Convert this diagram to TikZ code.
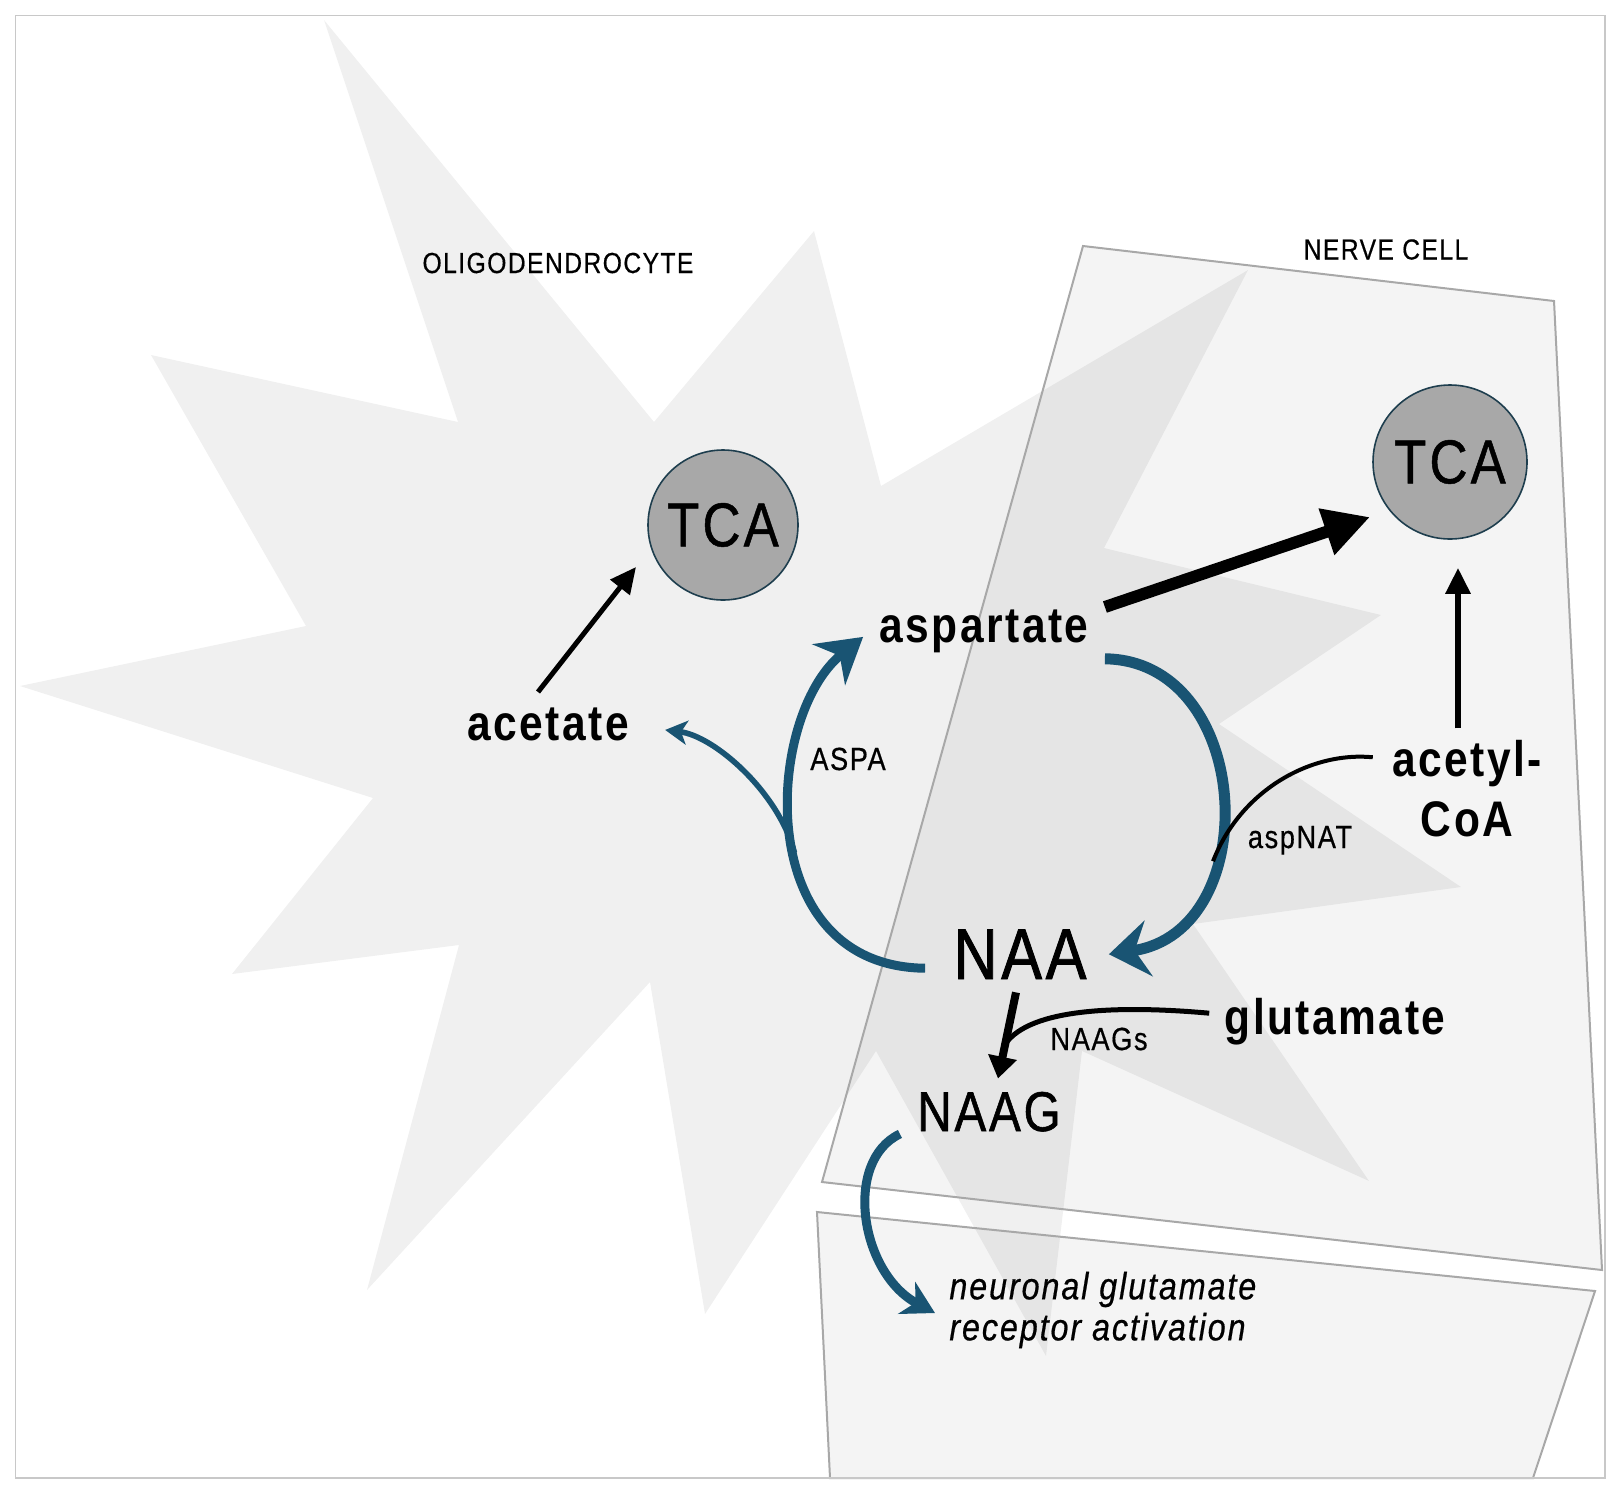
\documentclass[tikz,border=0pt]{standalone}
\usepackage{fontspec}
\setmainfont{Liberation Sans}[FakeStretch=0.85,LetterSpace=5]
\usetikzlibrary{arrows.meta,calc}

\definecolor{starGray}{RGB}{240,240,240}
\definecolor{boxLine}{RGB}{168,168,168}
\definecolor{frameLine}{RGB}{200,200,200}
\definecolor{tcaFill}{RGB}{168,168,168}
\definecolor{tcaLine}{RGB}{30,62,78}
\definecolor{naaBlue}{RGB}{25,84,115}

\newcommand{\fsCell}{\fontsize{14.5}{17}\selectfont\addfontfeature{FakeBold=0.5}}
\newcommand{\fsEnz}{\fontsize{16}{19}\selectfont\addfontfeature{FakeBold=0.5}}
\newcommand{\fsMet}{\fontsize{25}{30}\selectfont\bfseries}

\tikzset{
  lbl/.style={inner sep=1pt, anchor=base},
  tca/.style={circle, draw=tcaLine, line width=0.8pt, fill=tcaFill, inner sep=0pt, font=\fontsize{31}{36}\selectfont\addfontfeature{FakeBold=0.8}},
  cell/.style={draw=boxLine, line width=1pt, fill=black, fill opacity=0.045},
  blk/.style={draw=black},
  blu/.style={draw=naaBlue},
}

\begin{document}
\begin{tikzpicture}[x=0.5pt,y=0.5pt,yscale=-1,xscale=1]
\useasboundingbox (0,0) rectangle (1621,1494);

%Shape: Star
\draw [draw=none, fill=starGray] (324,20) -- (654,422) -- (814,231) -- (881,486) -- (1248,270) -- (1104,548) -- (1381,615) -- (1219,724) -- (1461,887) -- (1193,924) -- (1369,1181) -- (1082,1051) -- (1046,1356) -- (876,1051) -- (705,1314) -- (650,982) -- (367,1290) -- (459,945) -- (232,974) -- (373,798) -- (20,686) -- (306,626) -- (151,355) -- (458,422) -- cycle ;
%Shape: Polygon
\draw [cell] (1083,246) -- (1554,301) -- (1602,1270) -- (822,1182) -- cycle ;
%Shape: Polygon
\draw [cell] (817,1212) -- (1595,1291) -- (1533,1478) -- (830,1478) -- cycle ;
%Shape: Rectangle
\draw [frameLine, line width=0.6pt] (15.5,15.5) rectangle (1605,1478) ;

% Text Node
\draw (558,273) node [lbl] [font=\fsCell] (olig) {OLIGODENDROCYTE};
% Text Node
\draw (1386,259.5) node [lbl] [font=\fsCell] (nerve) {NERVE CELL};
% Circle
\draw (723,525) node [tca, minimum size=75pt] (tcaL) {TCA};
% Circle
\draw (1450,462) node [tca, minimum size=77pt] (tcaR) {TCA};
% Text Node
\draw (984,642) node [lbl] [font=\fsMet] (asp) {aspartate};
% Text Node
\draw (548,740) node [lbl] [font=\fsMet] (acet) {acetate};
% Text Node
\draw (848,770) node [lbl] [font=\fsEnz] (aspa) {ASPA};
% Text Node
\draw (1467,789) node [inner sep=1pt] [font=\fsMet] [align=center] (acoa) {acetyl-\\CoA};
% Text Node
\draw (1300,848) node [lbl] [font=\fsEnz] (tAspnat) {aspNAT};
% Text Node
\draw (1020,979) node [lbl] [font=\fontsize{36}{42}\selectfont\addfontfeature{FakeBold=1.2}] (naa) {NAA};
% Text Node
\draw (1335,1034) node [lbl] [font=\fsMet] (glu) {glutamate};
% Text Node
\draw (1099,1050) node [lbl] [font=\fsEnz] (tNaags) {NAAGs};
% Text Node
\draw (989,1131) node [lbl] [font=\fontsize{28}{33}\selectfont\addfontfeature{FakeBold=1}] (naag) {NAAG};
% Text Node
\draw (947,1310) node [anchor=west, inner sep=1pt] [font=\fontsize{19}{20.5}\selectfont\itshape\addfontfeature{FakeBold=0.5}] [align=left] (neur) {neuronal glutamate\\receptor activation};

%Curve Lines
\draw [blu, line width=5.5pt, -{Stealth[length=20pt,width=28pt,inset=7pt]}] ($(asp.south east)+(14,4)$) .. controls +(149,2) and +(157,-23) .. ($(naa.east)+(20,0)$) coordinate[pos=0.65] (natJoin) ;
%Curve Lines
\draw [blu, line width=4.5pt, -{Stealth[length=22pt,width=26pt,inset=7pt]}] ($(naa.west)+(-26,14)$) .. controls +(-175,-2) and +(-98,79) .. ($(asp.west)+(-14,6)$) coordinate[pos=0.45] (aspaSplit) ;
%Curve Lines
\draw [blu, line width=2.8pt, -{Stealth[length=11pt,width=12pt,inset=3pt]}] (aspaSplit) .. controls +(-16,-61) and +(49,6) .. ($(acet.east)+(34,6)$) ;
%Curve Lines
\draw [blu, line width=4.5pt, -{Stealth[length=16pt,width=18pt,inset=5pt]}] ($(naag.south west)+(-15,0)$) .. controls +(-57,27) and +(-75,-40) .. ($(neur.west)+(-12,3)$) ;

%Straight Lines
\draw [blk, line width=2.5pt, -{Triangle[length=13pt,width=12pt]}] ($(acet.north)+(-10,-13)$) -- ($(tcaL.center)+(-87,42)$) ;
%Straight Lines
\draw [blk, line width=6pt, -{Triangle[length=23pt,width=23pt]}] ($(asp.north east)+(14,0)$) -- ($(tcaR.center)+(-80,55)$) ;
%Straight Lines
\draw [blk, line width=3pt, -{Triangle[length=13pt,width=12pt]}] ($(acoa.north)+(-9,-10)$) -- ($(tcaR.south)+(8,28)$) ;
%Straight Lines
\draw [blk, line width=4pt, -{Triangle[length=11pt,width=14pt]}] ($(naa.south)+(-4,11)$) -- coordinate[pos=0.6] (naagJoin) ($(naag.north)+(9,-11)$) ;
%Curve Lines
\draw [blk, line width=2.5pt] ($(glu.west)+(-13,-8)$) .. controls +(-90,-8) and +(25,-36) .. (naagJoin) ;
%Curve Lines
\draw [blk, line width=2pt] ($(acoa.north west)+(-17,19)$) .. controls +(-63,-6) and +(27,-70) .. (natJoin) ;

\end{tikzpicture}
\end{document}
